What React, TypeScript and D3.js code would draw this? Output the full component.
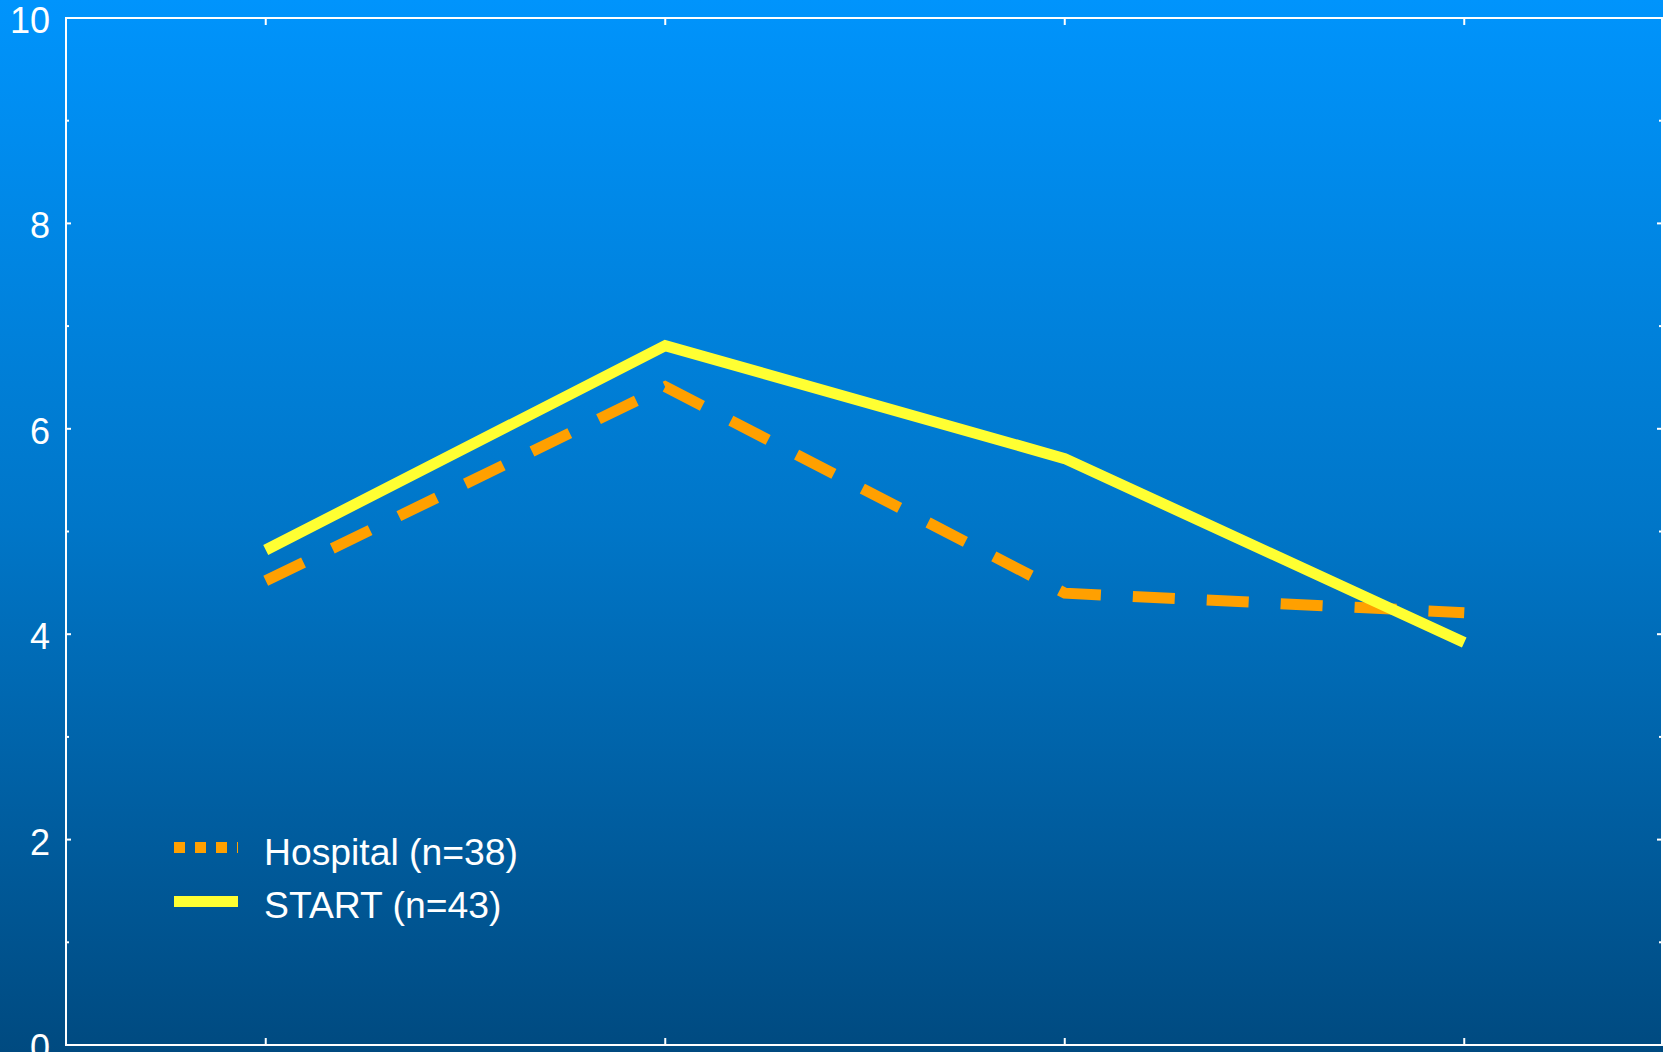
import React from "react";
import * as d3 from "d3";

const categories = ["T1", "T2", "T3", "T4"];
const hospitalValues = [4.52, 6.41, 4.4, 4.21];
const startValues = [4.82, 6.81, 5.71, 3.92];
const majorTicks = [0, 2, 4, 6, 8, 10];
const minorTicks = [1, 3, 5, 7, 9];
const legendLabels = ["Hospital (n=38)", "START (n=43)"];

const W = 1663;
const H = 1052;
const L = 66;
const R = 1662;
const T = 18;
const B = 1045;

export default function App() {
  const x = d3.scaleLinear().domain([-0.5, categories.length - 0.5]).range([L, R + 2]);
  const y = d3.scaleLinear().domain([0, 10]).range([B, T]);
  const line = d3
    .line<number>()
    .x((_, i) => x(i))
    .y((d) => y(d));
  const font = "'Liberation Sans', Arial, sans-serif";
  return (
    <div style={{ position: "absolute", left: 0, top: 0 }}>
      <svg width={W} height={H} style={{ display: "block" }}>
        <defs>
          <linearGradient id="bg" x1="0" y1="0" x2="0" y2="1">
            <stop offset="0" stopColor="rgb(0,148,252)" />
            <stop offset="0.5" stopColor="rgb(0,118,200)" />
            <stop offset="1" stopColor="rgb(0,74,128)" />
          </linearGradient>
        </defs>
        <rect x={0} y={0} width={W} height={H} fill="url(#bg)" />
        <rect x={L} y={T} width={R - L} height={B - T} fill="none" stroke="#fff" strokeWidth={2} />
        {majorTicks.map((t) => (
          <g key={"mj" + t}>
            <line x1={L} x2={L + 5} y1={y(t)} y2={y(t)} stroke="#fff" strokeWidth={2} />
            <line x1={R} x2={R - 5} y1={y(t)} y2={y(t)} stroke="#fff" strokeWidth={2} />
            <text x={50} y={y(t) + 15} textAnchor="end" fill="#fff" fontSize={36} fontFamily={font}>
              {t}
            </text>
          </g>
        ))}
        {minorTicks.map((t) => (
          <g key={"mn" + t}>
            <line x1={L} x2={L + 3} y1={y(t)} y2={y(t)} stroke="#fff" strokeWidth={2} />
            <line x1={R} x2={R - 3} y1={y(t)} y2={y(t)} stroke="#fff" strokeWidth={2} />
          </g>
        ))}
        {categories.map((c, i) => (
          <g key={c}>
            <line x1={x(i)} x2={x(i)} y1={B} y2={B - 7} stroke="#fff" strokeWidth={2} />
            <line x1={x(i)} x2={x(i)} y1={T} y2={T + 7} stroke="#fff" strokeWidth={2} />
          </g>
        ))}
        <path
          d={line(hospitalValues) || ""}
          fill="none"
          stroke="rgb(255,160,0)"
          strokeWidth={11}
          strokeDasharray="42,32"
          strokeLinejoin="miter"
        />
        <path
          d={line(startValues) || ""}
          fill="none"
          stroke="rgb(255,255,50)"
          strokeWidth={11}
          strokeLinejoin="miter"
        />
        <line x1={174} x2={238} y1={847.5} y2={847.5} stroke="rgb(255,160,0)" strokeWidth={11} strokeDasharray="11,10" />
        <line x1={174} x2={238} y1={901.5} y2={901.5} stroke="rgb(255,255,50)" strokeWidth={11} />
        <text x={264} y={865} fill="#fff" fontSize={37.3} fontFamily={font}>
          {legendLabels[0]}
        </text>
        <text x={264} y={918} fill="#fff" fontSize={37.3} fontFamily={font}>
          {legendLabels[1]}
        </text>
      </svg>
    </div>
  );
}
